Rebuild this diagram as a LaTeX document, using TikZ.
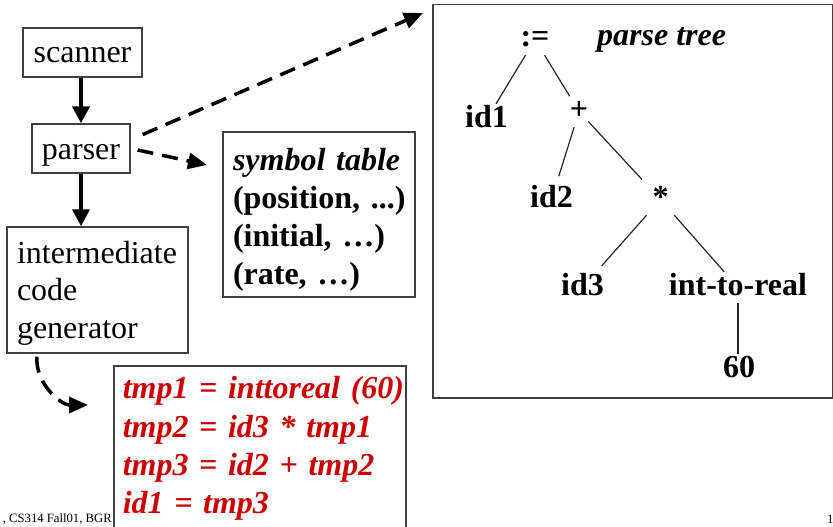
\documentclass[tikz,border=0pt]{standalone}
\usepackage{fontspec}
\setmainfont{Liberation Serif}
\usetikzlibrary{arrows.meta,positioning,calc}
\definecolor{codered}{RGB}{204,0,0}
\definecolor{frame}{RGB}{64,64,64}

\begin{document}
\begin{tikzpicture}[
  x=1pt, y=-1pt,
  every node/.style={font=\fontsize{32}{38.3}\selectfont},
  box/.style={draw=frame, line width=1.5pt, inner sep=0pt},
  stage/.style={box, text height=22pt, text depth=1pt},
  tnode/.style={font=\fontsize{32}{38.3}\selectfont\bfseries, inner sep=0pt,
    text height=23pt, text depth=8pt, anchor=base},
  branch/.style={draw=black!85, line width=1.2pt},
  flow/.style={line width=4pt, -{Triangle[length=17pt,width=17pt]}},
  dflow/.style={line width=3.5pt, dash pattern=on 16pt off 9pt,
    -{Triangle[length=19pt,width=16pt]}}
]
\useasboundingbox (0,0) rectangle (833,527);

% compiler phases
\node[stage, minimum width=119pt, minimum height=49pt] (scanner) at (82.5,52.5) {scanner};
\node[stage, minimum width=98pt, minimum height=49pt] (parser) at (81,148.5) {parser};
\node[box, minimum height=126pt, text width=161pt, inner xsep=10pt, align=left,
  text height=22pt, text depth=76pt, font=\fontsize{32}{37.5}\selectfont]
  (gen) at (97.5,290) {intermediate\\code\\generator};

\node[box, minimum height=165pt, text width=172pt, inner xsep=10pt, align=left,
  text height=22pt, text depth=111pt, font=\fontsize{32}{38.3}\selectfont\bfseries]
  (symtab) at (319,214.5) {\mbox{\textit{symbol table}}\\\mbox{(position, ...)}\\\mbox{(initial, …)}\\\mbox{(rate, …)}};

\node[box, anchor=north west, text width=274pt, inner xsep=9pt, inner ysep=0pt, align=left,
  text height=33pt, text depth=170pt, text=codered,
  font=\fontsize{32}{38.3}\selectfont\bfseries\itshape]
  (code) at (113,365) {\mbox{tmp1 = inttoreal (60)}\\\mbox{tmp2 = id3 * tmp1}\\\mbox{tmp3 = id2 + tmp2}\\\mbox{id1 = tmp3}};

% parse tree
\node[box, anchor=north west, minimum width=400pt, minimum height=393pt] (treebox) at (432,4) {};
\node[tnode] (assign) at (535,47) {:=};
\node[tnode, anchor=base west, font=\fontsize{32}{38.3}\selectfont\bfseries\itshape] (tlabel) at (597,46) {parse tree};
\node[tnode] (id1) at (486.5,127) {id1};
\node[tnode] (plus) at (579,119) {+};
\node[tnode] (id2) at (551.5,207) {id2};
\node[tnode, minimum width=40pt] (star) at (660.5,207) {*};
\node[tnode] (id3) at (582.5,295) {id3};
\node[tnode] (int) at (738,295) {int-to-real};
\node[tnode] (sixty) at (739,377) {60};

\draw[branch] (assign) -- (id1);
\draw[branch] (assign) -- (plus);
\draw[branch, shorten >=8pt] (plus) -- (id2);
\draw[branch, shorten >=6pt] (plus) -- (star);
\draw[branch, shorten >=8pt] (star) -- (id3);
\draw[branch] (star) -- (int);
\draw[branch] (int.south) -- (int.south |- sixty.north);

% arrows
\draw[flow] (parser.north |- scanner.south) -- (parser.north);
\draw[flow] (parser.south) -- (parser.south |- gen.north);

\coordinate (treetip) at (423,13);
\coordinate (symtip) at (207,165);
\coordinate (codetip) at (88,405);
\draw[dflow, shorten <=13pt] (parser.10) -- (treetip);
\draw[dflow, shorten <=7pt] (parser.east) -- (symtip);
\draw[dflow, shorten <=3pt] ([xshift=31pt]gen.south west) to[out=-95, in=180] (codetip);

% footer
\node[anchor=base east, inner sep=0pt, font=\fontsize{12.7}{15}\selectfont] (footer) at (112,522) {, CS314 Fall01, BGR};
\node[anchor=base west, inner sep=0pt, font=\fontsize{12.7}{15}\selectfont] (pageno) at (827,523) {1};
\end{tikzpicture}
\end{document}
